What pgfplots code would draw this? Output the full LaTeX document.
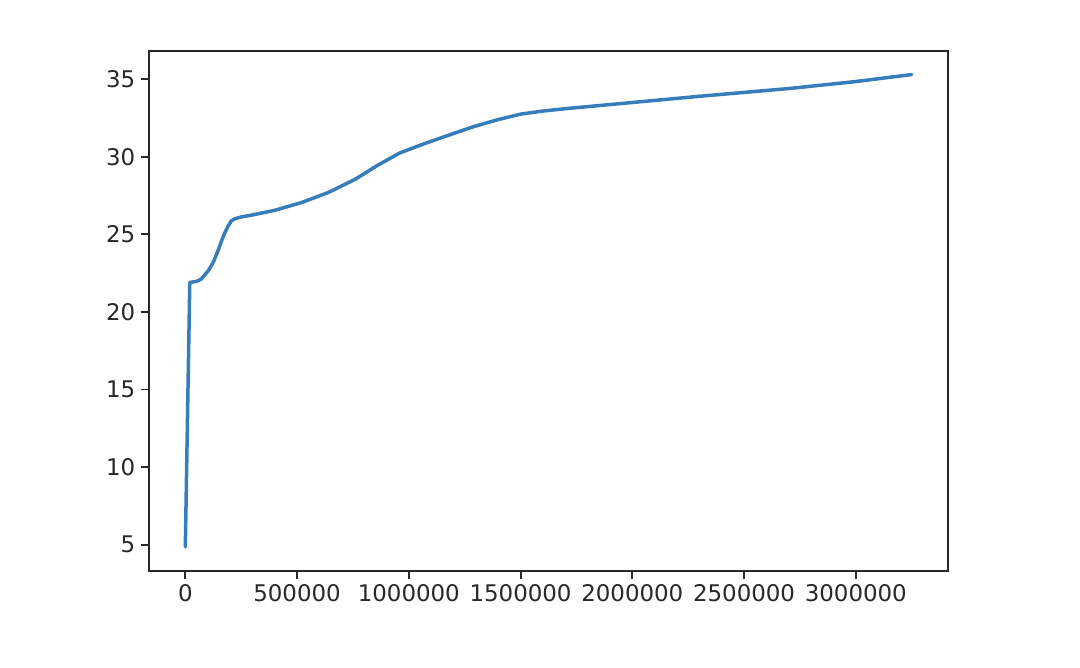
\documentclass[border=0pt]{standalone}
\usepackage{pgfplots}
\pgfplotsset{compat=1.18}
\usepackage{fontspec}
\setmainfont{DejaVu Sans}
\definecolor{mplblue}{RGB}{55,124,187}
\definecolor{spine}{RGB}{40,40,40}
\pgfplotstableread{
x y
0 4.85
20000 21.9
50000 21.97
70000 22.1
85000 22.35
105000 22.7
125000 23.2
145000 23.9
160000 24.5
175000 25.05
190000 25.5
205000 25.85
220000 26.0
250000 26.12
300000 26.25
400000 26.55
520000 27.05
640000 27.7
760000 28.55
860000 29.45
960000 30.25
1070000 30.85
1150000 31.25
1280000 31.9
1400000 32.4
1500000 32.75
1600000 32.95
1700000 33.1
2000000 33.5
2300000 33.9
2700000 34.4
3000000 34.85
3250000 35.3
}\datatable
\begin{document}
\begin{tikzpicture}
\begin{axis}[name=ax,
  scale only axis, width=799bp, height=520bp,
  xmin=-162500, xmax=3412500, ymin=3.30, ymax=36.82,
  axis line style={spine, line width=1.9bp},
  tick style={spine, line width=1.9bp},
  major tick length=8.3bp,
  tick align=outside,
  xtick pos=bottom, ytick pos=left,
  xtick={0,500000,1000000,1500000,2000000,2500000,3000000},
  ytick={5,10,15,20,25,30,35},
  scaled x ticks=false,
  /pgf/number format/.cd, fixed, 1000 sep={}, assume math mode=true,
  /pgfplots/.cd,
  ticklabel style={font=\fontsize{23}{28}\selectfont, text=spine},
  xticklabel style={yshift=-2bp},
  yticklabel style={xshift=-2bp},
]
\addplot[mplblue, line width=3.5bp, line join=round, line cap=round] table[x=x,y=y] {\datatable};
\end{axis}
\path[use as bounding box] ([xshift=-149bp,yshift=-97bp]ax.south west) rectangle ([xshift=132bp,yshift=51bp]ax.north east);
\end{tikzpicture}
\end{document}
